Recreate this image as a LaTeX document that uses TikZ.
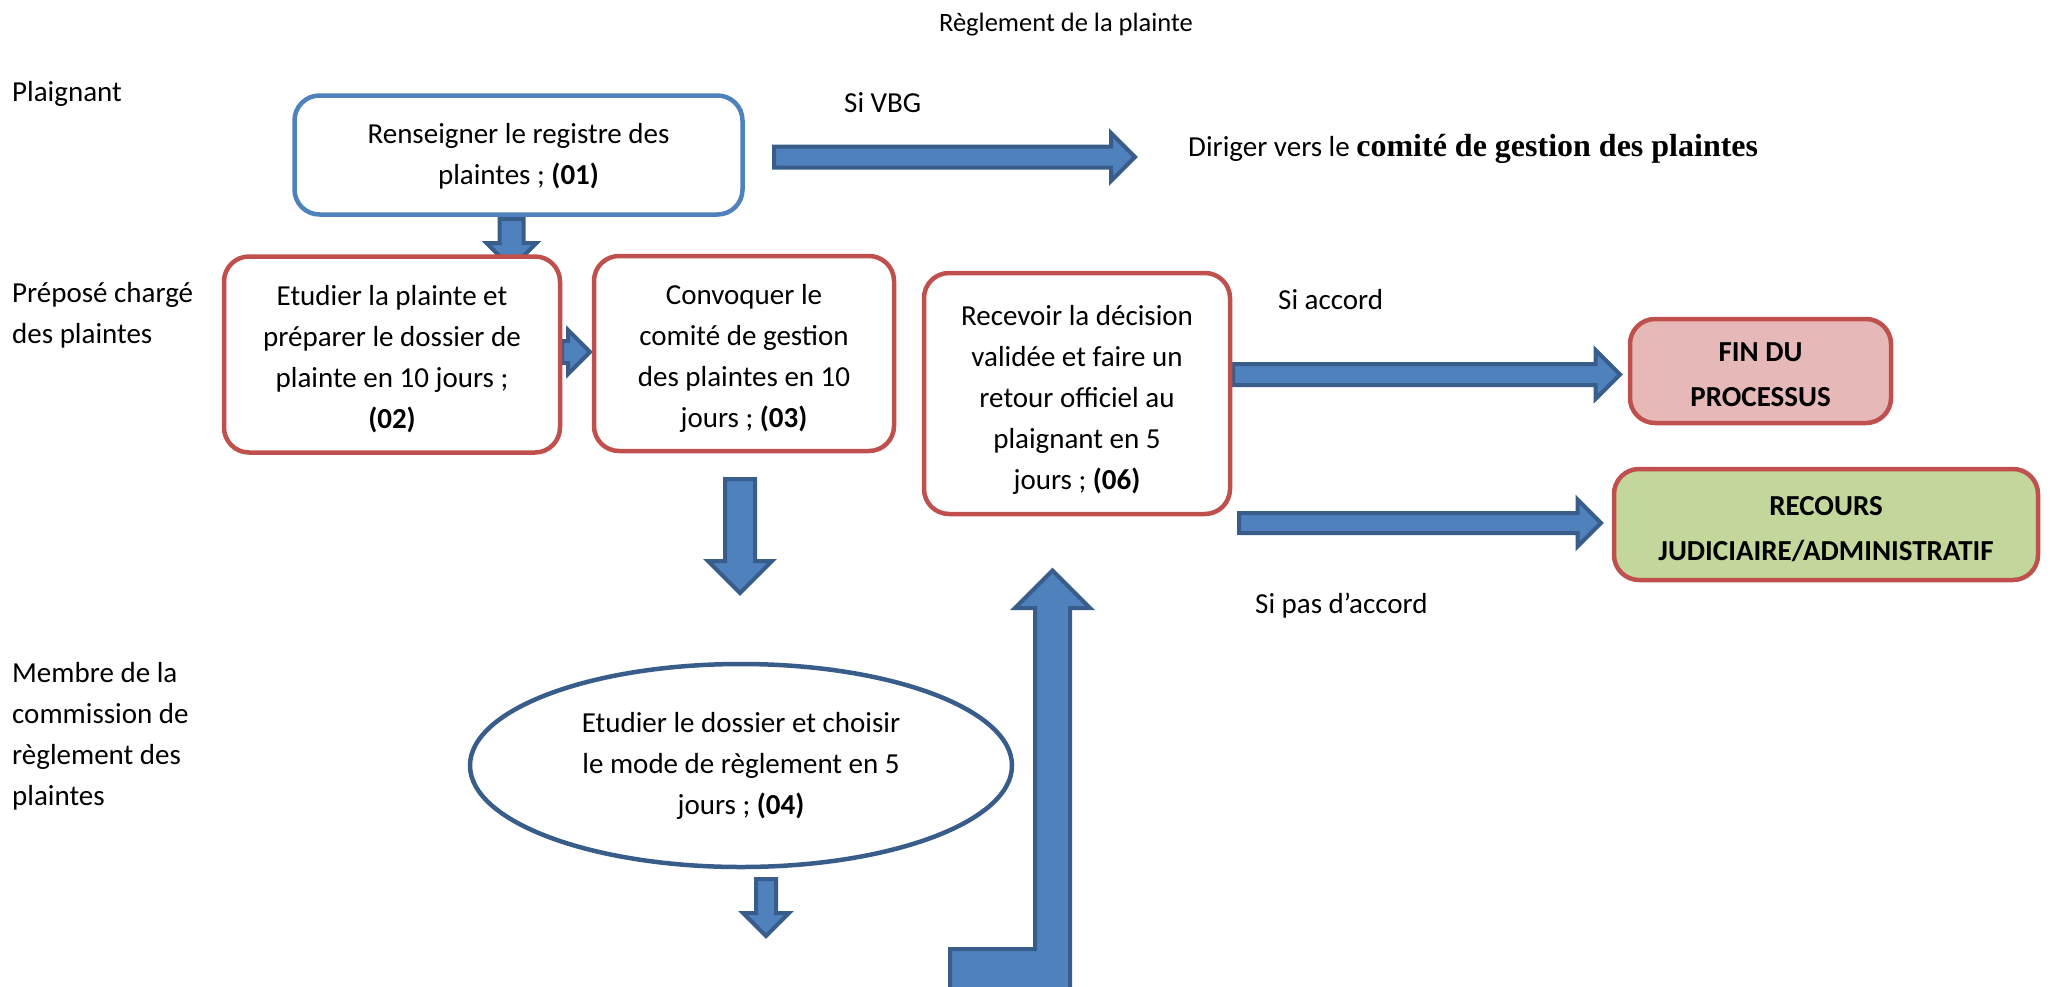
\documentclass[tikz,border=0pt]{standalone}
\usepackage{fontspec}
\setmainfont{Carlito}
\newfontfamily\tnr{Liberation Serif}
\usetikzlibrary{shapes.geometric}
\definecolor{boxblue}{HTML}{4F81BD}
\definecolor{boxred}{HTML}{C0504D}
\definecolor{arrfill}{HTML}{4F81BD}
\definecolor{arrline}{HTML}{385D8A}
\definecolor{finfill}{HTML}{E6B9B8}
\definecolor{recfill}{HTML}{C3D69B}
% horizontal block arrow: x start, x tip, y centre, shaft half, head half
\newcommand{\harrow}[5]{\draw[barrow] (#1,#3-#4) -- (#2-#5,#3-#4) -- (#2-#5,#3-#5) -- (#2,#3) -- (#2-#5,#3+#5) -- (#2-#5,#3+#4) -- (#1,#3+#4) -- cycle;}
% downward block arrow: x centre, y start, y tip, shaft half, head half
\newcommand{\darrow}[5]{\draw[barrow] (#1-#4,#2) -- (#1-#4,#3-#5) -- (#1-#5,#3-#5) -- (#1,#3) -- (#1+#5,#3-#5) -- (#1+#4,#3-#5) -- (#1+#4,#2) -- cycle;}
\begin{document}
\begin{tikzpicture}[x=1pt,y=-1pt,
  txt/.style={font=\fontsize{29}{41}\selectfont, inner sep=0pt},
  lbl/.style={txt, anchor=west, align=left},
  stepbox/.style={draw=boxred, line width=4.5pt, rounded corners=25pt, fill=white, inner sep=0pt},
  intext/.style={txt, align=center, yshift=-5pt},
  bintext/.style={font=\fontsize{29}{45}\selectfont\bfseries, inner sep=0pt, align=center, yshift=-4pt},
  barrow/.style={fill=arrfill, draw=arrline, line width=4pt, line join=miter},
]
\useasboundingbox (0,0) rectangle (2051,986);

% arrows drawn first (behind boxes)
\harrow{774}{1135}{157}{10.5}{24}
\darrow{511.5}{219}{268}{12}{25}
\harrow{562}{590}{352}{11}{22}
\darrow{740}{479}{593}{15}{32}
\darrow{766}{879}{936}{10}{23}
\harrow{1233}{1620}{374.5}{10.5}{24.5}
\harrow{1239}{1601}{523}{10}{23.5}
\begin{scope}
\clip (0,0) rectangle (2051,986);
\draw[barrow] (950,949) -- (1035,949) -- (1035,608) -- (1015,608) -- (1052.5,570.5) -- (1090,608) -- (1070,608) -- (1070,1000) -- (950,1000) -- cycle;
\end{scope}

% lane labels
\node[txt, font=\fontsize{26.5}{36}\selectfont] (title) at (1066,25) {Règlement de la plainte};
\node[lbl] (lplai) at (12,94) {Plaignant};
\node[lbl] (lprep) at (12,315) {Préposé chargé\\des plaintes};
\node[lbl] (lmemb) at (12,736) {Membre de la\\commission de\\règlement des\\plaintes};

% boxes
\node[stepbox, draw=boxblue, minimum width=448pt, minimum height=119pt,
  label={[txt, align=center, yshift=-1pt]center:{Renseigner le registre des\\plaintes ; \textbf{(01)}}}] (b1) at (518.5,155) {};
\node[stepbox, minimum width=336pt, minimum height=196pt,
  label={[intext]center:{Etudier la plainte et\\préparer le dossier de\\plainte en 10 jours ;\\\textbf{(02)}}}] (b2) at (392,354.5) {};
\node[stepbox, minimum width=300pt, minimum height=195pt,
  label={[intext]center:{Convoquer le\\comité de gestion\\des plaintes en 10\\jours ; \textbf{(03)}}}] (b3) at (744,353.5) {};
\node[draw=arrline, line width=4.5pt, ellipse, fill=white, inner sep=0pt, minimum width=542pt, minimum height=203pt,
  label={[txt, align=center]center:{Etudier le dossier et choisir\\le mode de règlement en 5\\jours ; \textbf{(04)}}}] (b4) at (741,765.5) {};
\node[stepbox, minimum width=306pt, minimum height=241pt,
  label={[intext, yshift=-1pt]center:{Recevoir la décision\\validée et faire un\\retour officiel au\\plaignant en 5\\jours ; \textbf{(06)}}}] (b6) at (1077,393.5) {};
\node[stepbox, fill=finfill, minimum width=261pt, minimum height=104pt,
  label={[bintext]center:{FIN DU\\PROCESSUS}}] (fin) at (1760.5,371) {};
\node[stepbox, fill=recfill, minimum width=424pt, minimum height=111pt,
  label={[bintext, yshift=-1pt]center:{RECOURS\\JUDICIAIRE/ADMINISTRATIF}}] (rec) at (1826,524.5) {};

% branch labels
\node[lbl] (lvbg) at (844,103) {Si VBG};
\node[lbl] (ldir) at (1188,149) {Diriger vers le {\tnr\bfseries\fontsize{32}{36}\selectfont comité de gestion des plaintes}};
\node[lbl] (lacc) at (1278,300) {Si accord};
\node[lbl] (lpas) at (1255,606) {Si pas d’accord};
\end{tikzpicture}
\end{document}
